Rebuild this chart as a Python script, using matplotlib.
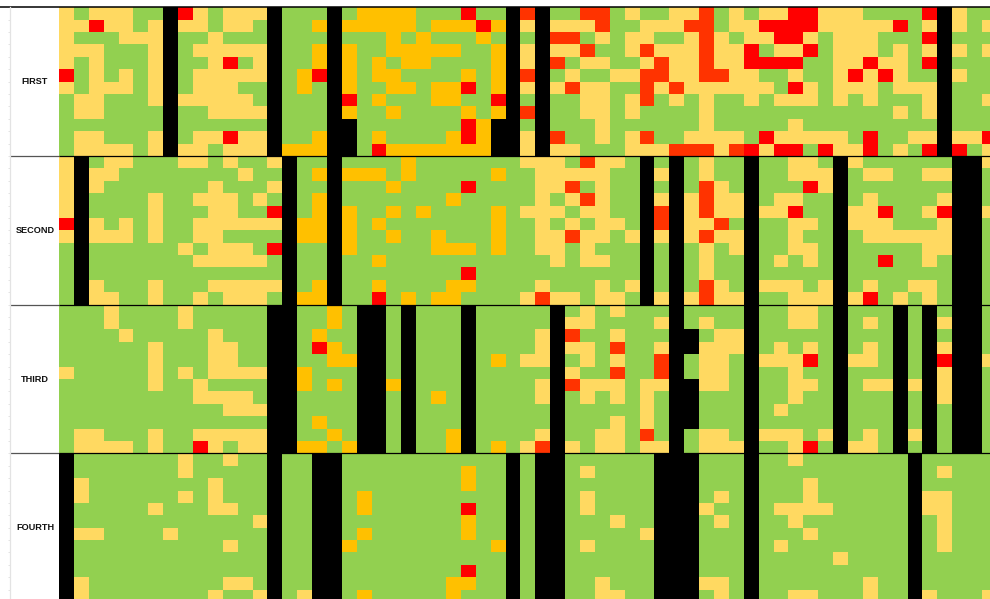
import numpy as np
import matplotlib
matplotlib.use("Agg")
import matplotlib.pyplot as plt
from matplotlib.colors import ListedColormap, BoundaryNorm

# one letter per cell: g ok, y low, o mid, d high, r top, k no data
labels = ["FIRST", "SECOND", "THIRD", "FOURTH"]
levels = "gyodrk"
colors = ["#92D050", "#FFD961", "#FFC000", "#FF3300", "#FF0000", "#000000"]

first_rows = [
    "y g yyy gg k r y g yyy k ggg k g oooo ggg r gg k d k gg dd g y gg yy d g y g yy rr yyy gggg r k y gg",
    "yy r yy g y k yy g yy g k gg o k ooooo g ooo r o k y k yyy d gg yyy dd g yy rrrr yyyyy r g y k y g y",
    "y ggg yyy k gg y ggg k ggg k ggg o g o ggg o g k g k dd g y g yy gg y d y g yy rr y g yyy ggg r k ggg",
    "yyy ggg y k g yyyyy k gg o k o gg ooooo gg o k y k yy d gg y d yyy d yy r g yy r g yyy g y g y k y g y",
    "y g y ggg y k gg y r g y k gg o k o g o g oo gggg o k y k d g yy gg y d yy d yy rrrr gg yy r yy g r k ggg",
    "r g y g y g y k g yyyyy k g o r k o g oo gggg o g o k d k g y gg yy dd yy dd yy gg y gg y r y r y gg k y gg",
    "y g yyy g y k g yyy gg k g o g k o gg oo g oo r g o k y k y d yy gg d y d yyyyyy g r y g yyy g yyy k ggg",
    "g yy ggg y k yyyyy g k ggg k r g o ggg oo gg r k g k gg yy g y d g y g y gg y g yyy g y g y ggg y k gg y",
    "g yy gggg k gg yyyy k ggg k o gg o gggg o g o k d k gg yy g y gggg y gggggggggggg y g y k ggg",
    "ggggggg k gggggg k ggg k k ggggggg r o kk g k ggg y gggggg y ggggg y ggggggggg k ggg",
    "g yy ggg y k g yy r yy k gg o k k g o gggg o r o kk y k d gg y g y d gg yyyy g r yyyyy g r gg yy k yy r",
    "g yyyy g y k yy g yyy k ooo k k g r ooooooo kk y k yy ggg yyy ddd y d r y rr g r yy r g y g r k r g y",
]

second_rows = [
    "y k g yy ggg yy g y gg y k gg k gggg o ggggggg yyy g d yy g k g k g y gg k gg yy g k y gggggg kk y",
    "y k yy gggggggg y gg k g o k ooo g o ggggg o gg yyyyy gg k y k g y gg k gg yyy k g yy gg yy kk g",
    "y k y ggggggg y ggg y k gg k ggg o gggg r gggg yy d g y gg k g k g d y g k ggg r y k ggggggg kk g",
    "y k gggg y gg yyy g y g k g o k ggggggg o ggggg y g y d y gg k y k y d yy k g yy gg k g y gggg y kk g",
    "y k gggg y ggg yy gg r k g o k o gg o g o gggg o g yyy g yy gg k d k y d yy k yy r gg k yy r gg y r kk y",
    "r k y g y g y gg yyyyyy k oo k o g o ggggggg o gg y g y g yy g k d k yy d g k gg yy g k yyy ggg y kk g",
    "y k yyy g y gg yy gggg k oo k o gg o gg o ggg o gg yy d yy g y k y k y d yy k gg y gg k g yyyyyy kk g",
    "g k gggggg y g yyy g r k gg k o ggggg ooo g o gg yy g y ggg k g k g y g y k gg yy g k ggggg yy kk g",
    "g k ggggggg yyyyy g k gg k gg o ggggggggggg y g yy gg k g k g y gg k g y g y g k gg r gg y g kk g",
    "g k ggggggggggggg k gg k gggggggg r ggggggggggg k g k g y gg k ggggg k ggggggg kk g",
    "g k y ggg y ggg yyyyy k g o k gg o gggg oo gggg y ggg y g y k g k g d y g k yyy g y k g y gg yy g kk g",
    "g k yy gg y gg y g yyy g k oo k gg r g o g oo gggg y d yy g yy g k y k y d yy k gg yyy k y r g y g y g kk g",
]

third_rows = [
    "ggg y gggg y ggggg kk gg o g kk g k ggg k ggggg k g y g y ggg k gggg k gg yy g k ggg k g k g kk g",
    "ggg y gggg y ggggg kk gg o g kk g k ggg k ggggg k yy gggg y k g y gg k gg yy g k g y g k g k y kk g",
    "gggg y ggggg y ggg kk g o g g kk g k ggg k gggg y k d gg y ggg k k g yy k ggggg k ggg k g k g kk g",
    "gggggg y ggg yy gg kk g r o g kk g k ggg k gggg y k yy g d gg y k k yyy k g y g y g k g y g k g k y kk g",
    "gggggg y ggg yy gg kk gg o o kk g k ggg k g o g yy k g y g y gg d k g yy g k yyy r g k yy g k g k r kk y",
    "y ggggg y g y g yyyy kk o gg g kk g k ggg k ggggg k y gg d gg d k g yy g k gg y gg k ggg k g k y kk g",
    "gggggg y gg y gggg kk o g o g kk o k ggg k gggg y k d yyy g yy k k yy g k gg yy g k g yy k y k y kk g",
    "ggggggggg yyyy g kk ggg g kk g k g o g k gggg y k g y g y g y g k k ggg k gg y gg k ggg k g k y kk g",
    "ggggggggggg yyy kk ggg g kk g k ggg k ggggg k ggggg y g k k ggg k g y ggg k ggg k g k g kk g",
    "gggggggggggggg kk g o g g kk g k ggg k ggggg k ggg y g y g k k ggg k ggggg k ggg k g k g kk g",
    "g yy ggg y gg yyyyy kk gg o g kk g k gg o k gggg y k gg yy g d g k g yy g k yyy g y k g y g k y k g kk g",
    "g yyyy g y gg r y g yy kk oo g o kk g k gg o k g o g y d k y g yy g yy k g yyy k gg y r g k yy g k g k g kk g",
]

fourth_rows = [
    "k ggggggg y gg y gg k gg kk ggggggggggg k g kk gggggg kkk ggg k gg y ggggggg k ggggg",
    "k ggggggg y ggggg k gg kk gggggggg o gg k g kk g y gggg kkk ggg k gggggggggg k g y ggg",
    "k y gggggggg y ggg k gg kk gggggggg o gg k g kk gggggg kkk ggg k ggg y gggggg k ggggg",
    "k y gggggg y g y ggg k gg kk g o ggggggggg k g kk g y gggg kkk g y g k ggg y gggggg k yy ggg",
    "k ggggg y ggg yy gg k gg kk g o gggggg r gg k g kk g y gggg kkk y gg k g yyyy ggggg k yy ggg",
    "k gggggggggggg y k gg kk gggggggg o gg k g kk ggg y gg kkk g y g k gg y ggggggg k g y ggg",
    "k yy gggg y gggggg k gg kk g o gggggg o gg k g kk ggggg y kkk ggg k ggg y gggggg k g y ggg",
    "k gggggggggg y gg k gg kk o ggggggggg o k g kk g y gggg kkk ggg k g y gggggggg k g y ggg",
    "k ggggggggggggg k gg kk ggggggggggg k g kk gggggg kkk ggg k ggggg y gggg k ggggg",
    "k ggggggggggggg k gg kk gggggggg r gg k g kk gggggg kkk ggg k gggggggggg k ggggg",
    "k y ggggggggg yy g k gg kk ggggggg oo gg k g kk gg y ggg kkk yy g k ggggggg y gg k ggggg",
    "k y gggggggg y gg y k g y kk g o ggggg o ggg k g kk gg yy gg kkk g y g k gg yy ggg y gg k y ggg y",
]

rows = first_rows + second_rows + third_rows + fourth_rows
for r in rows:
    print(len(r.replace(" ", "")))
grid = np.array([[levels.index(c) for c in r.replace(" ", "")] for r in rows])

W, H = 990, 599
cell_w, cell_h = 14.886, 12.39
left_px, top_px = 10, 7.3

fig = plt.figure(figsize=(W / 100, H / 100), dpi=100)
ax = fig.add_axes([left_px / W, 0, 1 - left_px / W, 1 - top_px / H])

cmap = ListedColormap(colors)
norm = BoundaryNorm(np.arange(-0.5, 6), 6)
ax.pcolormesh(np.arange(grid.shape[1] + 1), np.arange(grid.shape[0] + 1), grid,
              cmap=cmap, norm=norm, antialiased=False)

ax.set_xlim(-(59 - left_px) / cell_w, (W - 59) / cell_w)
ax.set_ylim((H - top_px) / cell_h, 0)

# separators between the four blocks
x0 = ax.get_xlim()[0]
x1 = ax.get_xlim()[1]
ax.hlines([12, 24, 36], x0, 0, color="#555555", lw=0.9)
ax.hlines([12, 24, 36], 0, x1, color="black", lw=0.9)
ax.plot([-0.0101, 1], [1, 1], transform=ax.transAxes, color="black", lw=1.1, clip_on=False)

for i, name in enumerate(labels):
    ax.text(-(59 - 35) / cell_w, 6 + 12 * i, name, ha="center", va="center",
            family="Liberation Sans", weight="bold", fontsize=6.6, color="#111111")

ax.set_xticks([])
ax.set_yticks(np.arange(1, 48))
ax.set_yticklabels([])
ax.tick_params(axis="y", length=1.6, width=0.7, color="#e3e3e3")
for s in ["top", "right", "bottom"]:
    ax.spines[s].set_visible(False)
ax.spines["left"].set_color("#e3e3e3")
ax.spines["left"].set_linewidth(0.9)

fig.savefig("out.png", dpi=100)
